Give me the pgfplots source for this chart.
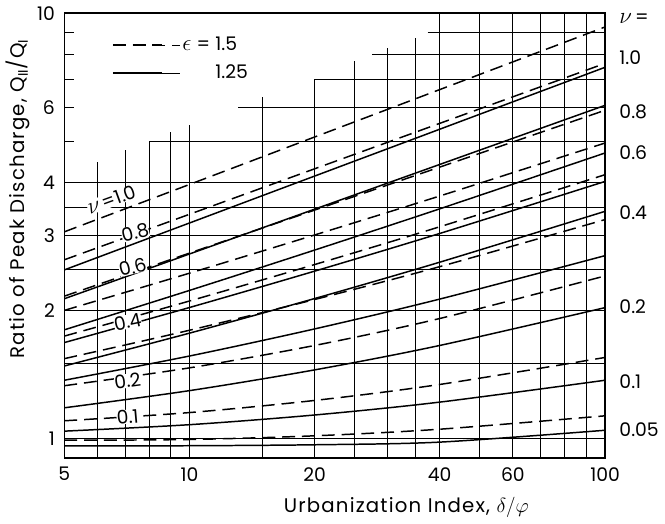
\documentclass[border=0pt]{standalone}
\usepackage{fontspec}
\setmainfont{Poppins}
\usepackage{graphicx}
\usepackage{pgfplots}
\pgfplotsset{compat=1.18}

\newcommand{\lbl}{\fontsize{19}{22}\selectfont}
\newcommand{\bignu}{\scalebox{1.35}{$\nu$}}
\newcommand{\bigeps}{\scalebox{1.35}{$\epsilon$}}
\begin{document}
\lbl
\begin{tikzpicture}
\pgfplotsset{
  gl/.style={black, line width=1bp, forget plot},
  sol/.style={black, line width=1.5bp, smooth, forget plot},
  das/.style={black, line width=1.5bp, smooth, dash pattern=on 13bp off 7bp, forget plot},
}
\begin{axis}[
  scale only axis, width=546bp, height=449bp,
  xmode=log, ymode=log,
  xmin=5, xmax=100, ymin=0.9, ymax=10,
  xtick={5,10,20,40,60,100}, xticklabels={5,10,20,40,60,100},
  ytick={1,2,3,4,5,6,7,8,9,10}, yticklabels={1,2,3,4,,6,,,,10},
  minor xtick={}, minor ytick={},
  xtick pos=bottom, ytick pos=left,
  x tick style={draw=none}, y tick style={line width=1bp, black},
  tick align=inside, major tick length=10bp,
  axis line style={line width=1.5bp},
  tick label style={font=\lbl},
  xticklabel style={yshift=-3bp},
  yticklabel style={xshift=-3bp},
  xlabel={Urbanization Index, $\delta/\varphi$},
  xlabel style={at={(axis description cs:0.394,-0.122)}, anchor=base west,
    font=\fontsize{20}{22}\selectfont\addfontfeature{LetterSpace=6}},
  ylabel={Ratio of Peak Discharge, Q$_{\mathrm{II}}$/Q$_{\mathrm{I}}$},
  ylabel style={at={(axis description cs:-0.073,0.209)}, anchor=base west,
    font=\fontsize{20}{22}\selectfont\addfontfeature{LetterSpace=6}},
  clip=false,
  legend style={draw=none, fill=none, inner sep=0pt, at={(axis description cs:0.088,0.952)}, anchor=north west,
    font=\lbl, row sep=8bp},
  legend cell align=left,
  legend image code/.code={\draw[#1, line width=1.5bp] (0bp,0bp) -- (50bp,0bp); \path (0bp,0bp) -- (68bp,0bp);},
]
% grid, vertical
\addplot[gl] coordinates {(6,0.9)(6,4.47)};
\addplot[gl] coordinates {(7,0.9)(7,4.77)};
\addplot[gl] coordinates {(8,0.9)(8,5)};
\addplot[gl] coordinates {(9,0.9)(9,5.26)};
\addplot[gl] coordinates {(10,0.9)(10,5.45)};
\addplot[gl] coordinates {(15,0.9)(15,6.35)};
\addplot[gl] coordinates {(20,0.9)(20,7)};
\addplot[gl] coordinates {(25,0.9)(25,7.73)};
\addplot[gl] coordinates {(30,0.9)(30,8.28)};
\addplot[gl] coordinates {(35,0.9)(35,8.74)};
\addplot[gl] coordinates {(40,0.9)(40,10)};
\addplot[gl] coordinates {(50,0.9)(50,10)};
\addplot[gl] coordinates {(60,0.9)(60,10)};
\addplot[gl] coordinates {(70,0.9)(70,10)};
\addplot[gl] coordinates {(80,0.9)(80,10)};
\addplot[gl] coordinates {(90,0.9)(90,10)};
% grid, horizontal
\addplot[gl] coordinates {(5,1)(100,1)};
\addplot[gl] coordinates {(5,1.5)(100,1.5)};
\addplot[gl] coordinates {(5,2)(100,2)};
\addplot[gl] coordinates {(5,2.5)(100,2.5)};
\addplot[gl] coordinates {(5,3)(100,3)};
\addplot[gl] coordinates {(5,3.5)(100,3.5)};
\addplot[gl] coordinates {(5,4)(100,4)};
\addplot[gl] coordinates {(8,5)(100,5)};
\addplot[gl] coordinates {(13.1,6)(100,6)};
\addplot[gl] coordinates {(20,7)(100,7)};
\addplot[gl] coordinates {(27.5,8)(100,8)};
\addplot[gl] coordinates {(37.4,9)(100,9)};

% epsilon = 1.5 (dashed)
\addplot[das] coordinates {(5,3.06)(10,3.955)(20,5.113)(40,6.61)(100,9.28)};
\addplot[das] coordinates {(5,2.63)(10,3.365)(20,4.304)(40,5.505)(100,7.62)};
\addplot[das] coordinates {(5,2.16)(10,2.727)(20,3.442)(40,4.344)(100,5.91)};
\addplot[das] coordinates {(5,2.0)(10,2.446)(20,3.008)(40,3.715)(100,4.95)};
\addplot[das] coordinates {(5,1.74)(10,2.104)(20,2.563)(40,3.145)(100,4.17)};
\addplot[das] coordinates {(5,1.54)(10,1.796)(20,2.121)(40,2.534)(100,3.27)};
\addplot[das] coordinates {(5,1.33)(10,1.465)(20,1.654)(40,1.914)(100,2.41)};
\addplot[das] coordinates {(5,1.10)(10,1.150)(20,1.228)(40,1.339)(100,1.55)};
\addplot[das] coordinates {(5,0.99)(10,0.994)(20,1.014)(40,1.051)(100,1.13)};
% epsilon = 1.25 (solid)
\addplot[sol] coordinates {(5,2.49)(10,3.21)(20,4.138)(40,5.333)(100,7.46)};
\addplot[sol] coordinates {(5,2.13)(10,2.714)(20,3.459)(40,4.407)(100,6.07)};
\addplot[sol] coordinates {(5,1.80)(10,2.228)(20,2.772)(40,3.466)(100,4.69)};
\addplot[sol] coordinates {(5,1.68)(10,2.031)(20,2.473)(40,3.033)(100,4.02)};
\addplot[sol] coordinates {(5,1.48)(10,1.768)(20,2.132)(40,2.596)(100,3.42)};
\addplot[sol] coordinates {(5,1.37)(10,1.562)(20,1.809)(40,2.126)(100,2.69)};
\addplot[sol] coordinates {(5,1.18)(10,1.295)(20,1.449)(40,1.654)(100,2.03)};
\addplot[sol] coordinates {(5,1.04)(10,1.077)(20,1.135)(40,1.217)(100,1.37)};
\addplot[sol] coordinates {(5,0.96)(10,0.961)(20,0.966)(40,0.98)(100,1.045)};

\addlegendimage{black, dash pattern=on 13bp off 7bp}
\addlegendentry{\bigeps\;=\;1.5}
\addlegendimage{black}
\addlegendentry{\phantom{\bigeps\;=\;}1.25}

% labels on curves
\node[rotate=20, fill=white, inner sep=0bp] at (axis cs:6.5,3.64) {\bignu\,=1.0};
\node[rotate=14, fill=white, inner sep=0bp] at (axis cs:7.4,3.05) {0.8};
\node[rotate=14, fill=white, inner sep=0bp] at (axis cs:7.3,2.53) {0.6};
\node[rotate=12, fill=white, inner sep=0bp] at (axis cs:7.1,1.88) {0.4};
\node[rotate=8, fill=white, inner sep=0bp] at (axis cs:7.1,1.365) {0.2};
\node[rotate=5, fill=white, inner sep=0bp] at (axis cs:7.1,1.125) {0.1};
% labels at right
\node[anchor=west] at (axis cs:104.5,9.73) {\bignu\,=};
\node[anchor=west] at (axis cs:104.5,7.86) {1.0};
\node[anchor=west] at (axis cs:104.5,5.85) {0.8};
\node[anchor=west] at (axis cs:104.5,4.69) {0.6};
\node[anchor=west] at (axis cs:104.5,3.40) {0.4};
\node[anchor=west] at (axis cs:104.5,2.04) {0.2};
\node[anchor=west] at (axis cs:104.5,1.358) {0.1};
\node[anchor=west] at (axis cs:104.5,1.049) {0.05};
\end{axis}
\end{tikzpicture}
\end{document}
